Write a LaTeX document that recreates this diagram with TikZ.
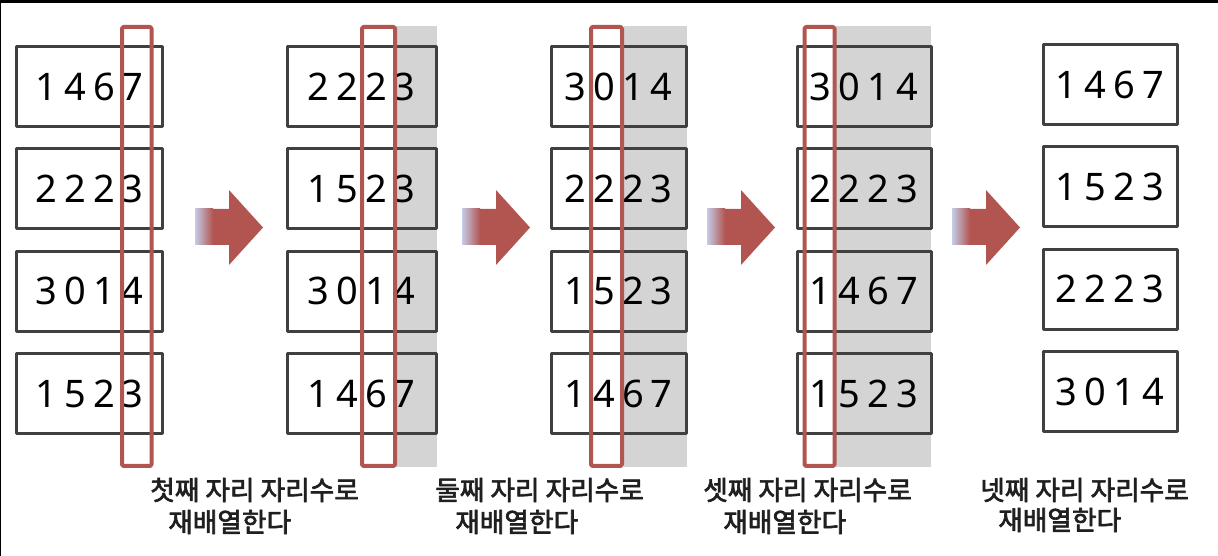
\documentclass[tikz,border=0pt]{standalone}
\usepackage{fontspec}
\newfontfamily\kor[FakeBold=2.5]{Noto Sans CJK KR}
\newfontfamily\digitfont{Noto Sans}
\definecolor{sortred}{RGB}{178,85,80}
\definecolor{bandgray}{RGB}{212,212,212}
\definecolor{boxline}{RGB}{64,64,64}
\definecolor{fadeblue}{RGB}{196,204,232}
\newlength\px \setlength\px{0.025cm}
% one key, four digits on a fixed pitch
\def\splitdig#1#2#3#4\relax{\makebox[28.8\px]{#1}\makebox[28.8\px]{#2}\makebox[28.8\px]{#3}\makebox[28.8\px]{#4}}
\newcommand\fourdig[1]{\expandafter\splitdig#1\relax}
\begin{document}
\begin{tikzpicture}[x=0.025cm, y=-0.025cm, line join=round,
    numbox/.style={draw=boxline, line width=3\px, minimum height=80\px, inner sep=0pt,
      font=\digitfont\fontsize{27}{30}\selectfont},
    pick/.style={draw=sortred, line width=4\px, rounded corners=1pt},
    band/.style={fill=bandgray},
    lbl/.style={font=\kor\fontsize{19}{21}\selectfont, text=black!88, inner sep=0pt, anchor=west}]
  % page and frame
  \useasboundingbox (0,0) rectangle (1218,556);
  \fill[white] (0,0) rectangle (1218,556);
  \fill[black] (0,0) rectangle (1218,2.6);
  \fill[black] (0,0) rectangle (1.5,556);

  % grey bands: digits already sorted on
  \foreach \c/\bl/\br in {2/396/437, 3/624/687, 4/836/931}
    \fill[band] (\bl,26) rectangle (\br,467);

  % key boxes, column by column
  \foreach \c/\xl/\xr/\yo/\rows in {
      1/16.5/162.5/86.5/{1467,2223,3014,1523},
      2/287/436/86.5/{2223,1523,3014,1467},
      3/551/686/86.5/{3014,2223,1523,1467},
      4/797/931/86.5/{3014,2223,1467,1523},
      5/1043/1177/84.5/{1467,1523,2223,3014}} {
    \pgfmathsetmacro\bw{\xr-\xl}
    \foreach \r [count=\k] in \rows
      \node[numbox, minimum width=\bw\px] (b\c-\k) at ({(\xl+\xr)/2}, {\yo+(\k-1)*102.4}) {\fourdig{\r}};
  }

  % red frame round the digit being sorted
  \foreach \c/\pl/\pr in {1/122/151.5, 2/362/395, 3/591/622, 4/804.5/834.5}
    \draw[pick] (\pl,27) rectangle (\pr,466);

  % block arrows between the passes
  \foreach \ax in {195,462,707,952} {
    \fill[sortred] (\ax,209) -- (\ax+34,209) -- (\ax+34,190) -- (\ax+68,227.5)
      -- (\ax+34,265) -- (\ax+34,245) -- (\ax,245) -- cycle;
    \shade[left color=fadeblue, right color=sortred] (\ax,209) rectangle (\ax+18,245);
  }

  % captions
  \node[lbl] (cap1a) at (150,490) {첫째 자리 자리수로};
  \node[lbl] (cap1b) at (168,522) {재배열한다};
  \node[lbl] (cap2a) at (435,490) {둘째 자리 자리수로};
  \node[lbl] (cap2b) at (455,522) {재배열한다};
  \node[lbl] (cap3a) at (703,490) {셋째 자리 자리수로};
  \node[lbl] (cap3b) at (723,522) {재배열한다};
  \node[lbl] (cap4a) at (980,490) {넷째 자리 자리수로};
  \node[lbl] (cap4b) at (998,520) {재배열한다};
\end{tikzpicture}
\end{document}
